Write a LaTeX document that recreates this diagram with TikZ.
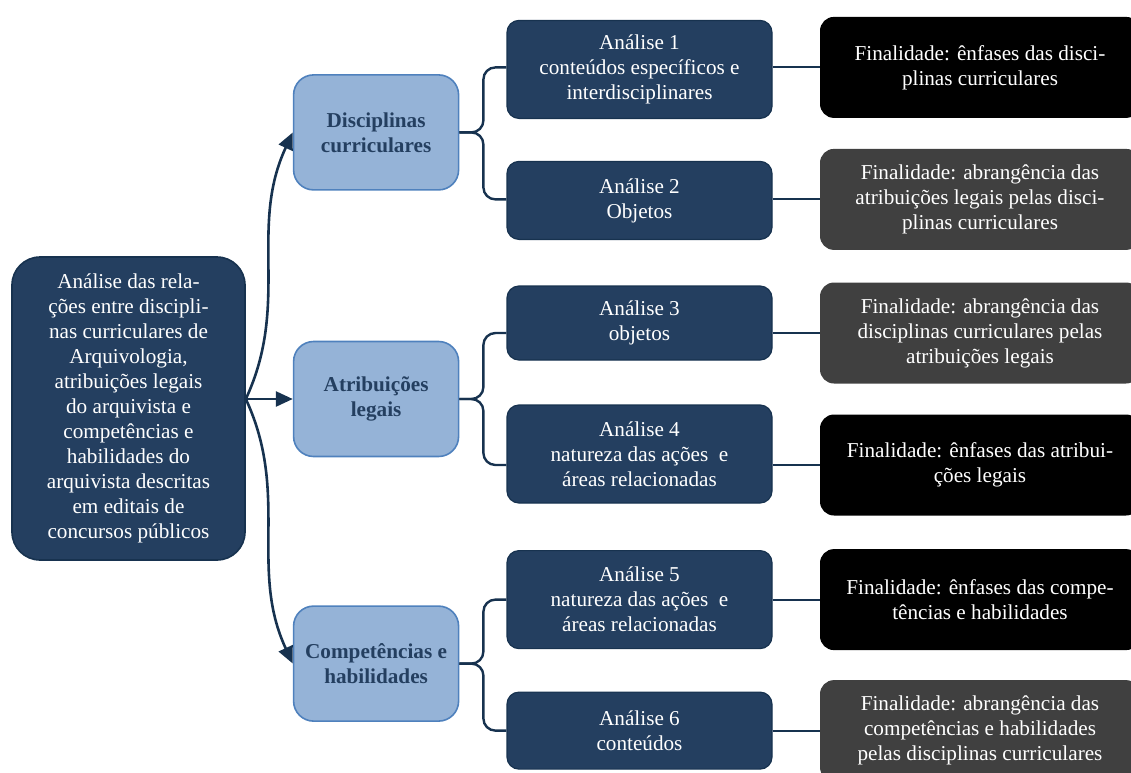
\documentclass[tikz,border=0pt]{standalone}
\usepackage{fontspec}
\setmainfont{Liberation Serif}
\usetikzlibrary{arrows.meta,positioning}
\definecolor{navyfill}{HTML}{243F60}
\definecolor{navyline}{HTML}{17324F}
\definecolor{lightfill}{HTML}{95B3D7}
\definecolor{lightline}{HTML}{4F81BD}
\definecolor{grayfill}{HTML}{404040}
\newcommand{\boxfont}{\fontsize{10.6}{12.5}\selectfont}
\tikzset{
  rootbox/.style={
    draw=navyline,
    fill=navyfill,
    text=white,
    rounded corners=14pt,
    align=center,
    minimum width=116.5pt,
    minimum height=151.5pt,
    line width=0.8pt,
    font=\boxfont
  },
  groupbox/.style={
    draw=lightline,
    fill=lightfill,
    text=navyfill,
    rounded corners=10pt,
    align=center,
    minimum width=82.5pt,
    minimum height=57.5pt,
    line width=0.8pt,
    font=\boxfont\bfseries
  },
  analysisbox/.style={
    draw=navyline,
    fill=navyfill,
    text=white,
    rounded corners=6pt,
    align=center,
    minimum width=132.5pt,
    line width=0.6pt,
    font=\boxfont
  },
  goalbox/.style={
    fill=black,
    text=white,
    rounded corners=7pt,
    align=center,
    minimum width=160pt,
    minimum height=50.5pt,
    font=\boxfont
  },
  goalgray/.style={goalbox, fill=grayfill},
  rootarrow/.style={-{Triangle[length=8.5pt,width=7.5pt]}, line width=1.3pt, draw=navyline},
  bracelink/.style={line width=1.2pt, draw=navyline, rounded corners=6pt},
  goallink/.style={line width=1pt, draw=navyline}
}

\begin{document}
\begin{tikzpicture}[x=0.5pt, y=-0.5pt]
\useasboundingbox (0,0) rectangle (1131,772);

\node[rootbox] (root) at (128.5,408.5) {Análise das rela-\\ções entre discipli-\\nas curriculares de\\Arquivologia,\\atribuições legais\\do arquivista e\\competências e\\habilidades do\\arquivista descritas\\em editais de\\concursos públicos};

\node[groupbox, right=23.5pt of root, yshift=4.75pt] (atr) {Atribuições\\legais};
\node[groupbox, above=75pt of atr] (dc) {Disciplinas\\curriculares};
\node[groupbox, below=74pt of atr] (comp) {Competências e\\habilidades};

\node[analysisbox, right=23.5pt of dc, yshift=31.5pt, minimum height=49pt] (a1) {Análise 1\\conteúdos específicos e\\interdisciplinares};
\node[analysisbox, right=23.5pt of dc, yshift=-34pt, minimum height=39pt] (a2) {Análise 2\\Objetos};
\node[analysisbox, right=23.5pt of atr, yshift=38pt, minimum height=37pt] (a3) {Análise 3\\objetos};
\node[analysisbox, right=23.5pt of atr, yshift=-27.5pt, minimum height=49pt] (a4) {Análise 4\\natureza das ações\ \ e\\áreas relacionadas};
\node[analysisbox, right=23.5pt of comp, yshift=32pt, minimum height=49pt] (a5) {Análise 5\\natureza das ações\ \ e\\áreas relacionadas};
\node[analysisbox, right=23.5pt of comp, yshift=-33.5pt, minimum height=38.5pt] (a6) {Análise 6\\conteúdos};

\node[goalbox, right=23.5pt of a1, yshift=1pt] (f1) {Finalidade: ênfases das disci-\\plinas curriculares};
\node[goalgray, right=23.5pt of a2, yshift=0.5pt] (f2) {Finalidade: abrangência das\\atribuições legais pelas disci-\\plinas curriculares};
\node[goalgray, right=23.5pt of a3, yshift=-5pt] (f3) {Finalidade: abrangência das\\disciplinas curriculares pelas\\atribuições legais};
\node[goalbox, right=23.5pt of a4, yshift=-5.5pt] (f4) {Finalidade: ênfases das atribui-\\ções legais};
\node[goalbox, right=23.5pt of a5] (f5) {Finalidade: ênfases das compe-\\tências e habilidades};
\node[goalgray, right=23.5pt of a6] (f6) {Finalidade: abrangência das\\competências e habilidades\\pelas disciplinas curriculares};

% root to groups
\draw[rootarrow] (root.east |- atr.west) to[out=65, in=245] (dc.west);
\draw[rootarrow] (root.east |- atr.west) -- (atr.west);
\draw[rootarrow] (root.east |- atr.west) to[out=-65, in=115] (comp.west);

% groups to analyses
\draw[bracelink] (dc.east) -- ++(12pt,0) |- (f1.west -| a1.west);
\draw[bracelink] (dc.east) -- ++(12pt,0) |- (f2.west -| a2.west);
\draw[bracelink] (atr.east) -- ++(12pt,0) |- (f3.west -| a3.west);
\draw[bracelink] (atr.east) -- ++(12pt,0) |- (f4.west -| a4.west);
\draw[bracelink] (comp.east) -- ++(12pt,0) |- (f5.west -| a5.west);
\draw[bracelink] (comp.east) -- ++(12pt,0) |- (f6.west -| a6.west);

% analyses to goals
\draw[goallink] (f1.west -| a1.east) -- (f1.west);
\draw[goallink] (f2.west -| a2.east) -- (f2.west);
\draw[goallink] (f3.west -| a3.east) -- (f3.west);
\draw[goallink] (f4.west -| a4.east) -- (f4.west);
\draw[goallink] (f5.west -| a5.east) -- (f5.west);
\draw[goallink] (f6.west -| a6.east) -- (f6.west);
\end{tikzpicture}
\end{document}
